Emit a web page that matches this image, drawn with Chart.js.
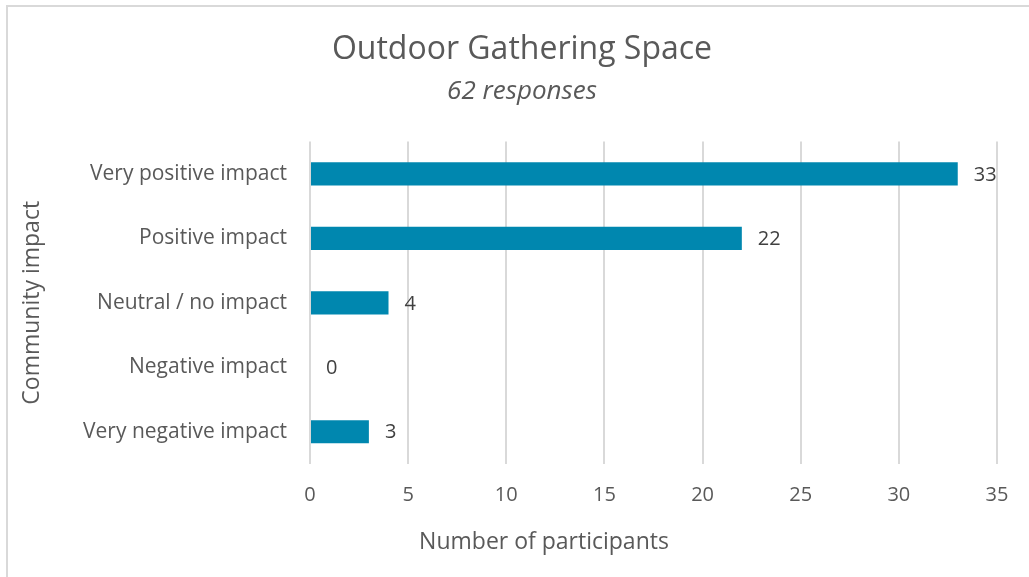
<!DOCTYPE html>
<html>
<head>
<meta charset="utf-8">
<script src="https://cdn.jsdelivr.net/npm/chart.js@4.4.1/dist/chart.umd.min.js"></script>
<style>
  html, body { margin: 0; padding: 0; background: #fff; overflow: hidden; }
  #frame {
    position: absolute; left: 6px; top: 5px; width: 1100px; height: 700px;
    border: 2px solid #d9d9d9; box-sizing: border-box;
  }
  #wrap { position: absolute; left: 0; top: 0; width: 1029px; height: 577px; }
</style>
</head>
<body>
<div id="frame"></div>
<div id="wrap"><canvas id="myChart" width="1029" height="577"></canvas></div>
<script>
// categorias y valores
var categories = ['Very positive impact', 'Positive impact', 'Neutral / no impact', 'Negative impact', 'Very negative impact'];
var participants = [33, 22, 4, 0, 3];
var xTicks = [0, 5, 10, 15, 20, 25, 30, 35];
var xAxisTitle = 'Number of participants';
var yAxisTitle = 'Community impact';

var textColor = '#595959';
var fontFamily = '"Open Sans", "DejaVu Sans", sans-serif';

// etiquetas de valor al final de cada barra + titulos de ejes
var valueLabels = {
    id: 'valueLabels',
    afterDatasetsDraw: function(chart) {
        var ctx = chart.ctx;
        var meta = chart.getDatasetMeta(0);
        ctx.save();
        ctx.font = '20px ' + fontFamily;
        ctx.fillStyle = '#404040';
        ctx.textAlign = 'left';
        ctx.textBaseline = 'middle';
        meta.data.forEach(function(bar, i) {
            ctx.fillText(String(participants[i]), bar.x + 16, bar.y + 1);
        });
        ctx.restore();
    },
    afterDraw: function(chart) {
        var ctx = chart.ctx;
        var area = chart.chartArea;
        ctx.save();
        ctx.font = '23px ' + fontFamily;
        ctx.fillStyle = textColor;
        ctx.textAlign = 'center';
        ctx.textBaseline = 'middle';
        // titulo eje X
        ctx.fillText(xAxisTitle, 544, area.bottom + 78);
        // titulo eje Y (rotado)
        ctx.translate(32, (area.top + area.bottom) / 2);
        ctx.rotate(-Math.PI / 2);
        ctx.fillText(yAxisTitle, 0, 0);
        ctx.restore();
    }
};

var config = {
    type: 'bar',
    data: {
        labels: categories,
        datasets: [{
            label: xAxisTitle,
            data: participants,
            backgroundColor: '#0087AF',
            borderWidth: 0,
            barPercentage: 0.36,
            categoryPercentage: 1
        }]
    },
    options: {
        indexAxis: 'y',
        responsive: false,
        animation: false,
        devicePixelRatio: 1,
        layout: {
            padding: { left: 47, right: 32, top: 0, bottom: 0 }
        },
        plugins: {
            legend: { display: false },
            tooltip: { enabled: false },
            title: {
                display: true,
                text: 'Outdoor Gathering Space',
                color: textColor,
                font: { family: fontFamily, size: 32, weight: 'normal' },
                padding: { top: 31, bottom: 0 }
            },
            subtitle: {
                display: true,
                text: '62 responses',
                color: textColor,
                font: { family: fontFamily, size: 26, style: 'italic', weight: 'normal' },
                padding: { top: 7, bottom: 34 }
            }
        },
        scales: {
            x: {
                min: 0,
                max: 35,
                afterBuildTicks: function(scale) {
                    scale.ticks = xTicks.map(function(v) { return { value: v }; });
                },
                afterFit: function(scale) { scale.height = 113; },
                grid: { color: '#d9d9d9', lineWidth: 2, drawTicks: false },
                border: { display: false },
                ticks: {
                    color: textColor,
                    padding: 19,
                    maxRotation: 0,
                    font: { family: fontFamily, size: 20 }
                }
            },
            y: {
                afterFit: function(scale) { scale.width = 263; },
                grid: { display: false, drawTicks: false },
                border: { display: false },
                ticks: {
                    color: textColor,
                    padding: 23,
                    font: { family: fontFamily, size: 21 }
                }
            }
        }
    },
    plugins: [valueLabels]
};

new Chart(document.getElementById('myChart').getContext('2d'), config);
</script>
</body>
</html>
